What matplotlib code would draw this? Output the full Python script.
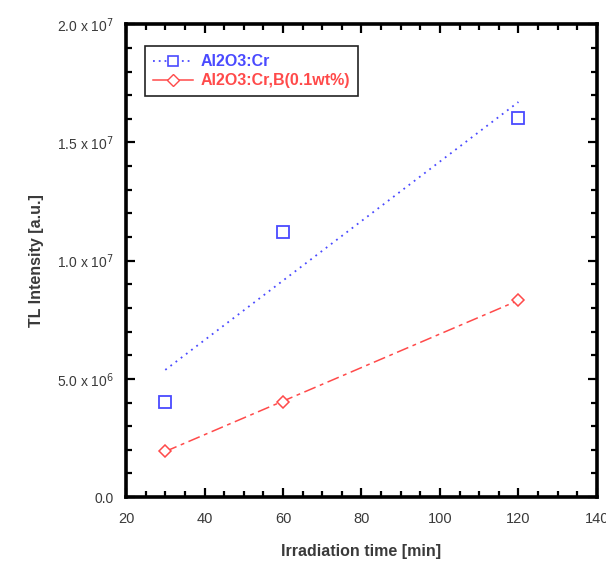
import numpy as np
import matplotlib
matplotlib.use("Agg")
import matplotlib.pyplot as plt
from matplotlib.ticker import MultipleLocator, FuncFormatter

# Irradiation time [min] and TL intensity [a.u.]
time_min = [30, 60, 120]
tl_cr = [4.02e6, 1.12e7, 1.603e7]
tl_cr_b = [1.95e6, 4.03e6, 8.33e6]

label_cr = "Al2O3:Cr"
label_cr_b = "Al2O3:Cr,B(0.1wt%)"

blue = "#4a4aff"
red = "#ff4a4a"
text_gray = "#3a3a3a"

plt.rcParams["font.family"] = ["Liberation Sans", "DejaVu Sans"]

fig = plt.figure(figsize=(6.06, 5.63), dpi=100)
ax = fig.add_axes([0.208, 0.117, 0.777, 0.840])

x = np.array(time_min, dtype=float)
xfit = np.array([x.min(), x.max()])

# least-squares linear fits through each series
p_cr = np.polyfit(x, tl_cr, 1)
p_crb = np.polyfit(x, tl_cr_b, 1)

ax.plot(xfit, np.polyval(p_cr, xfit), color=blue, lw=1.3,
        linestyle=(0, (1, 2.6)))
ax.plot(xfit, np.polyval(p_crb, xfit), color=red, lw=1.1,
        linestyle=(0, (8, 3, 2.5, 3)))

ax.plot(x, tl_cr, linestyle="none", marker="s", ms=8, mfc="white",
        mec=blue, mew=1.3)
ax.plot(x, tl_cr_b, linestyle="none", marker="D", ms=6.5, mfc="white",
        mec=red, mew=1.1)

# legend proxies: line + marker as shown in the key
h1, = ax.plot([], [], color=blue, lw=1.3, linestyle=(0, (1, 2.2)),
              marker="s", ms=7, mfc="white", mec=blue, mew=1.2)
h2, = ax.plot([], [], color=red, lw=1.1, linestyle="-",
              marker="D", ms=6, mfc="white", mec=red, mew=1.0)
leg = ax.legend([h1, h2], [label_cr, label_cr_b], loc="upper left",
                bbox_to_anchor=(0.04, 0.953), frameon=True, fancybox=False,
                edgecolor="#222222", framealpha=1, fontsize=11.5,
                handlelength=2.5, handletextpad=0.5, borderpad=0.5,
                labelspacing=0.25, borderaxespad=0)
leg.get_frame().set_linewidth(1.2)
leg.get_texts()[0].set_color(blue)
leg.get_texts()[1].set_color(red)
for t in leg.get_texts():
    t.set_fontweight("bold")

ax.set_xlim(20, 140)
ax.set_ylim(0, 2.0e7)
ax.xaxis.set_major_locator(MultipleLocator(20))
ax.xaxis.set_minor_locator(MultipleLocator(5))
ax.yaxis.set_major_locator(MultipleLocator(5e6))
ax.yaxis.set_minor_locator(MultipleLocator(1e6))


def sci_fmt(v, pos):
    if v == 0:
        return "0.0"
    e = int(np.floor(np.log10(abs(v))))
    m = v / 10 ** e
    return f"{m:.1f} x 10$^{{{e}}}$"


ax.yaxis.set_major_formatter(FuncFormatter(sci_fmt))

ax.tick_params(which="both", direction="in", top=True, right=True,
               colors="black", labelcolor=text_gray, width=1.6)
ax.tick_params(which="major", length=6.5, labelsize=10.5)
ax.tick_params(which="minor", length=4)
ax.tick_params(axis="x", which="major", pad=11)
ax.tick_params(axis="y", which="major", labelsize=10, pad=9)
for s in ax.spines.values():
    s.set_linewidth(2.6)

ax.set_xlabel("Irradiation time [min]", fontsize=11.5, color=text_gray,
              labelpad=13, fontweight="bold")
ax.set_ylabel("TL Intensity [a.u.]", fontsize=11.5, color=text_gray,
              labelpad=9, fontweight="bold")

fig.savefig("out.png", dpi=100)
